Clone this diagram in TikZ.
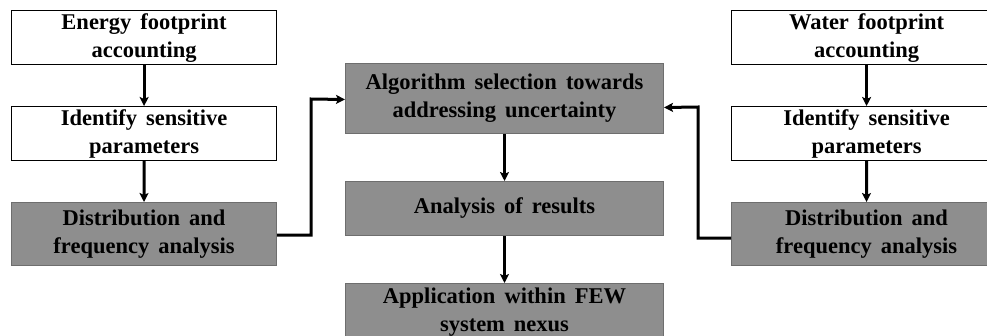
\documentclass[tikz,border=0pt]{standalone}
\usepackage{fontspec}
\setmainfont[WordSpace=1.6]{Liberation Serif}
\usetikzlibrary{arrows.meta}
\definecolor{boxgray}{HTML}{8E8E8E}
\definecolor{boxedge}{HTML}{6E6E6E}
\tikzset{
  base/.style={font=\bfseries\fontsize{22.5}{28}\selectfont, align=center, inner sep=0pt, anchor=north west},
  whitebox/.style={base, draw=black, line width=1.2pt, fill=white},
  graybox/.style={base, draw=boxedge, line width=1pt, fill=boxgray},
  conn/.style={line width=3pt, -{Stealth[length=9pt,width=9pt,inset=2pt]}}
}
\begin{document}
\begin{tikzpicture}[x=1pt,y=-1pt]
\useasboundingbox (0,0) rectangle (987,335);
\clip (0,0) rectangle (987,335);
% left column
\node[whitebox, minimum width=265pt, minimum height=54pt] (e1) at (11,10) {Energy footprint\\accounting};
\node[whitebox, minimum width=265pt, minimum height=54pt] (e2) at (11,106) {Identify sensitive\\parameters};
\node[graybox, minimum width=265pt, minimum height=63pt] (e3) at (11,202) {Distribution and\\frequency analysis};
% centre column
\node[graybox, minimum width=318pt, minimum height=70pt] (c1) at (345,63) {Algorithm selection towards\\addressing uncertainty};
\node[graybox, minimum width=318pt, minimum height=54pt] (c2) at (345,181) {Analysis of results};
\node[graybox, minimum width=318pt, minimum height=58pt] (c3) at (345,283) {Application within FEW\\system nexus};
% right column
\node[whitebox, minimum width=270pt, minimum height=54pt] (w1) at (731,10) {Water footprint\\accounting};
\node[whitebox, minimum width=270pt, minimum height=54pt] (w2) at (731,106) {Identify sensitive\\parameters};
\node[graybox, minimum width=270pt, minimum height=63pt] (w3) at (731,202) {Distribution and\\frequency analysis};
% connectors
\draw[conn] (e1.south) -- (e2.north);
\draw[conn] (e2.south) -- (e3.north);
\draw[conn] (w1.south) -- (w2.north);
\draw[conn] (w2.south) -- (w3.north);
\draw[conn] (c1.south) -- (c2.north);
\draw[conn] (c2.south) -- (c3.north);
\draw[conn] ([yshift=-1pt]e3.east) -| (311,99) -- ([yshift=-1pt]c1.west);
\draw[conn] ([yshift=-4pt]w3.west) -| (698,107) -- ([yshift=-9pt]c1.east);
\end{tikzpicture}
\end{document}
